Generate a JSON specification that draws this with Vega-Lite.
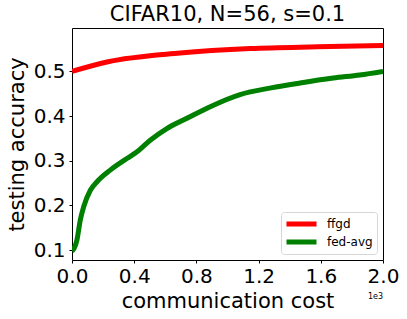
{
  "$schema": "https://vega.github.io/schema/vega-lite/v6.json",
  "width": 311,
  "height": 232,
  "autosize": {"type": "none"},
  "padding": {"left": 72, "top": 28, "right": 24, "bottom": 59},
  "config": {
    "font": "DejaVu Sans",
    "view": {"stroke": "black", "strokeWidth": 1},
    "axis": {"grid": false, "domain": false, "tickColor": "black", "tickSize": 3, "labelColor": "black", "titleColor": "black", "labelFont": "DejaVu Sans", "titleFont": "DejaVu Sans", "labelFontSize": 20, "titleFontSize": 21, "titleFontWeight": "normal", "labelFlush": false, "labelOverlap": false}
  },
  "title": {"text": "CIFAR10, N=56, s=0.1", "fontSize": 21, "fontWeight": "normal", "font": "DejaVu Sans", "color": "black", "offset": 3},
  "datasets": {
    "lines": [
      {"cost": 0.0, "acc": 0.500, "series": "ffgd"},
      {"cost": 0.225, "acc": 0.521, "series": "ffgd"},
      {"cost": 0.696, "acc": 0.541, "series": "ffgd"},
      {"cost": 1.147, "acc": 0.551, "series": "ffgd"},
      {"cost": 1.576, "acc": 0.555, "series": "ffgd"},
      {"cost": 2.0, "acc": 0.558, "series": "ffgd"},
      {"cost": 0.0, "acc": 0.098, "lo": 0.093, "hi": 0.103, "series": "fed-avg"},
      {"cost": 0.015, "acc": 0.105, "lo": 0.100, "hi": 0.110, "series": "fed-avg"},
      {"cost": 0.032, "acc": 0.123, "lo": 0.118, "hi": 0.128, "series": "fed-avg"},
      {"cost": 0.053, "acc": 0.167, "lo": 0.162, "hi": 0.172, "series": "fed-avg"},
      {"cost": 0.075, "acc": 0.197, "lo": 0.192, "hi": 0.202, "series": "fed-avg"},
      {"cost": 0.118, "acc": 0.234, "lo": 0.229, "hi": 0.239, "series": "fed-avg"},
      {"cost": 0.161, "acc": 0.253, "lo": 0.248, "hi": 0.258, "series": "fed-avg"},
      {"cost": 0.246, "acc": 0.279, "lo": 0.274, "hi": 0.284, "series": "fed-avg"},
      {"cost": 0.353, "acc": 0.305, "lo": 0.300, "hi": 0.310, "series": "fed-avg"},
      {"cost": 0.418, "acc": 0.320, "lo": 0.315, "hi": 0.325, "series": "fed-avg"},
      {"cost": 0.503, "acc": 0.346, "lo": 0.340, "hi": 0.352, "series": "fed-avg"},
      {"cost": 0.610, "acc": 0.372, "lo": 0.365, "hi": 0.379, "series": "fed-avg"},
      {"cost": 0.739, "acc": 0.395, "lo": 0.388, "hi": 0.402, "series": "fed-avg"},
      {"cost": 0.889, "acc": 0.421, "lo": 0.415, "hi": 0.427, "series": "fed-avg"},
      {"cost": 1.081, "acc": 0.448, "lo": 0.443, "hi": 0.453, "series": "fed-avg"},
      {"cost": 1.280, "acc": 0.463, "lo": 0.458, "hi": 0.468, "series": "fed-avg"},
      {"cost": 1.467, "acc": 0.474, "lo": 0.469, "hi": 0.479, "series": "fed-avg"},
      {"cost": 1.680, "acc": 0.485, "lo": 0.480, "hi": 0.490, "series": "fed-avg"},
      {"cost": 1.850, "acc": 0.492, "lo": 0.487, "hi": 0.497, "series": "fed-avg"},
      {"cost": 2.0, "acc": 0.500, "lo": 0.495, "hi": 0.505, "series": "fed-avg"}
    ],
    "note": [{"cost": 2.0, "acc": 0.078, "label": "1e3"}]
  },
  "layer": [
    {
      "data": {"name": "lines"},
      "transform": [{"filter": "datum.series === 'fed-avg'"}],
      "mark": {"type": "area", "color": "#008000", "opacity": 0.15, "clip": true, "interpolate": "monotone"},
      "encoding": {
        "x": {"field": "cost", "type": "quantitative"},
        "y": {"field": "lo", "type": "quantitative"},
        "y2": {"field": "hi"}
      }
    },
    {
      "data": {"name": "lines"},
      "mark": {"type": "line", "strokeWidth": 5, "clip": true, "interpolate": "monotone"},
      "encoding": {
        "x": {"field": "cost", "type": "quantitative", "scale": {"domain": [0, 2.0], "nice": false, "zero": false}, "axis": {"values": [0, 0.4, 0.8, 1.2, 1.6, 2.0], "format": ".1f", "title": "communication cost", "titlePadding": 4, "labelPadding": 3}},
        "y": {"field": "acc", "type": "quantitative", "scale": {"domain": [0.078, 0.597], "nice": false, "zero": false}, "axis": {"values": [0.1, 0.2, 0.3, 0.4, 0.5], "format": ".1f", "title": "testing accuracy", "titlePadding": 6, "labelPadding": 4}},
        "color": {"field": "series", "type": "nominal", "scale": {"domain": ["ffgd", "fed-avg"], "range": ["#ff0000", "#008000"]}, "legend": {"title": null, "orient": "bottom-right", "offset": 6, "symbolType": "M-3,0H3", "symbolStrokeWidth": 5, "symbolSize": 100, "symbolOffset": 9, "clipHeight": 16, "labelFontSize": 12, "labelFont": "DejaVu Sans", "labelColor": "black", "fillColor": "white", "strokeColor": "#d6d6d6", "cornerRadius": 3, "padding": 4, "rowPadding": 2, "labelOffset": 18}}
      }
    },
    {
      "data": {"name": "note"},
      "mark": {"type": "text", "fontSize": 8, "align": "right", "baseline": "top", "dy": 33, "font": "DejaVu Sans", "color": "black"},
      "encoding": {
        "x": {"field": "cost", "type": "quantitative"},
        "y": {"field": "acc", "type": "quantitative"},
        "text": {"field": "label"}
      }
    }
  ]
}
